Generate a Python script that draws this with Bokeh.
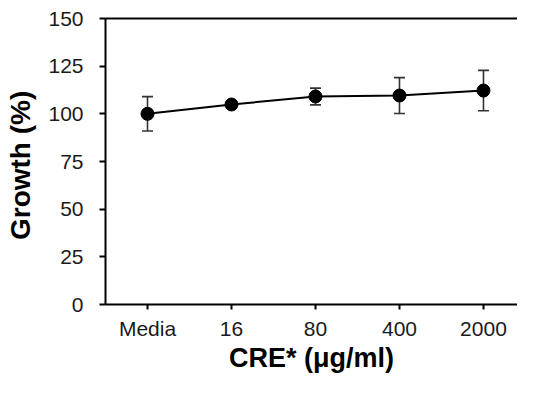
from bokeh.plotting import figure
from bokeh.models import ColumnDataSource, Whisker, LinearAxis, FixedTicker, Range1d
from bokeh.embed import file_html
from bokeh.resources import INLINE

categories = ["Media", "16", "80", "400", "2000"]
growth = [100.0, 104.9, 109.1, 109.6, 112.2]
err = [9.0, 0.8, 4.4, 9.4, 10.6]
y_ticks = [0, 25, 50, 75, 100, 125, 150]

xs = list(range(len(categories)))
src = ColumnDataSource(data=dict(
    x=xs, y=growth,
    upper=[g + e for g, e in zip(growth, err)],
    lower=[g - e for g, e in zip(growth, err)],
))

FONT = "Liberation Sans"

p = figure(width=517, height=377, output_backend="svg", toolbar_location=None,
           x_range=Range1d(-0.5, 4.405), y_range=Range1d(0, 150),
           min_border_left=105, min_border_right=0, min_border_top=18, min_border_bottom=73)
p.outline_line_color = None
p.grid.visible = False
p.background_fill_color = "white"
p.border_fill_color = "white"

w = Whisker(source=src, base="x", upper="upper", lower="lower",
            line_color="#333333", line_width=1.6)
w.upper_head.size = 11
w.lower_head.size = 11
w.upper_head.line_color = "#333333"
w.lower_head.line_color = "#333333"
w.upper_head.line_width = 1.6
w.lower_head.line_width = 1.6
p.add_layout(w)

p.line("x", "y", source=src, line_color="black", line_width=2)
p.scatter("x", "y", source=src, size=13, color="black")

for ax in (p.xaxis[0], p.yaxis[0]):
    ax.axis_line_width = 2
    ax.axis_line_color = "black"
    ax.major_tick_line_width = 2
    ax.major_tick_line_color = "black"
    ax.major_tick_in = 0
    ax.minor_tick_line_color = None
    ax.major_label_text_font = FONT
    ax.major_label_text_font_size = "21px"
    ax.major_label_text_color = "#1a1a1a"
    ax.axis_label_text_font = FONT
    ax.axis_label_text_font_style = "bold"
    ax.axis_label_text_color = "black"

p.xaxis.ticker = FixedTicker(ticks=xs)
p.xaxis.major_label_overrides = {i: c for i, c in enumerate(categories)}
p.xaxis.major_tick_out = 5
p.xaxis.major_label_standoff = 7
p.xaxis.axis_label = "CRE* (\u03bcg/ml)"
p.xaxis.axis_label_text_font_size = "27px"
p.xaxis.axis_label_standoff = 0

p.yaxis.ticker = FixedTicker(ticks=y_ticks)
p.yaxis.major_tick_out = 6
p.yaxis.major_label_standoff = 16
p.yaxis.axis_label = "Growth  (%)"
p.yaxis.axis_label_text_font_size = "28px"
p.yaxis.axis_label_standoff = 9

top = LinearAxis(ticker=FixedTicker(ticks=[]), major_label_text_font_size="0px",
                 axis_line_width=2, axis_line_color="black",
                 major_tick_line_color=None, minor_tick_line_color=None)
p.add_layout(top, "above")

open("out.html", "w").write(file_html(p, INLINE))
